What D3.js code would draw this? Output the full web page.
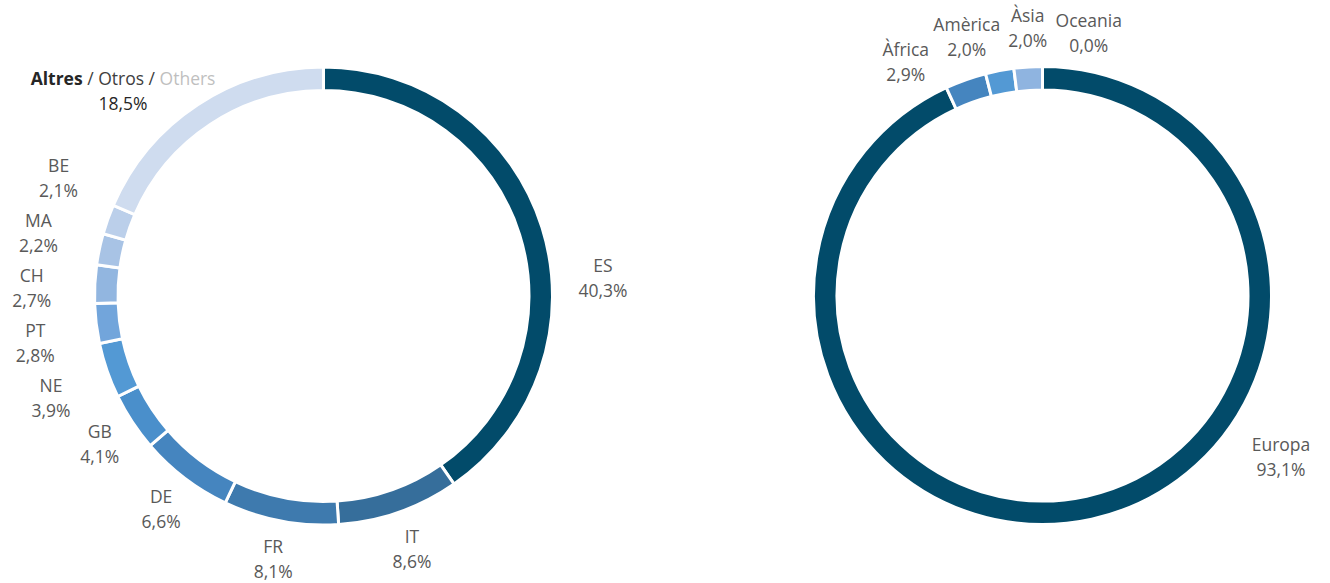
<!DOCTYPE html>
<html>
<head>
<meta charset="utf-8">
<script src="https://cdn.jsdelivr.net/npm/d3@7"></script>
<style>
  html, body { margin: 0; padding: 0; background: #ffffff; }
  svg { display: block; }
  text { font-family: "Open Sans", "Liberation Sans", sans-serif; }
</style>
</head>
<body>
<svg id="chart" width="1330" height="583"></svg>
<script>
// ---------- DATA ----------
const countryCategories = ["ES", "IT", "FR", "DE", "GB", "NE", "PT", "CH", "MA", "BE", "Altres"];
const countryValues     = [40.3, 8.6, 8.1, 6.6, 4.1, 3.9, 2.8, 2.7, 2.2, 2.1, 18.5];
const countryColors     = ["#024b6a", "#366e9b", "#3e7aae", "#4585bf", "#4a8fcb", "#5399d4",
                           "#72a5db", "#92b6e0", "#a8c3e5", "#bbcfea", "#cfdcef"];

const continentCategories = ["Europa", "Àfrica", "Amèrica", "Àsia", "Oceania"];
const continentValues     = [93.1, 2.9, 2.0, 2.0, 0.0];
const continentColors     = ["#024b6a", "#4585bf", "#5399d4", "#8fb4e0", "#cfdcef"];

// ---------- LAYOUT ----------
const OUTER = 229, INNER = 205.5;
const charts = [
  { cats: countryCategories, vals: countryValues, colors: countryColors, cx: 323.5, cy: 296 },
  { cats: continentCategories, vals: continentValues, colors: continentColors, cx: 1042.5, cy: 295.5 }
];
// manually dragged labels in the original (angle in degrees clockwise from top, radius)
const labelOverride = { "ES": [86.3, 280], "Europa": [124.1, 288], "Altres": [315.6, 286.5] };
const TEXT_COLOR = "#595959";
const FONT_SIZE = 17.5;
const fmt = v => d3.format(".1f")(v).replace(".", ",") + "%";

const svg = d3.select("#chart");
const pie = d3.pie().sort(null).value(d => d.v).startAngle(0).endAngle(2 * Math.PI);
const arc = d3.arc().innerRadius(INNER).outerRadius(OUTER);

function resolveGroup(items, key, gap) {
  // 1-D cluster-based overlap removal
  items.sort((a, b) => a[key] - b[key]);
  let clusters = items.map(it => ({ items: [it] }));
  const layout = c => {
    const mean = d3.mean(c.items, it => it[key]);
    const n = c.items.length;
    c.start = mean - (n - 1) * gap / 2;
    c.end = mean + (n - 1) * gap / 2;
  };
  clusters.forEach(layout);
  let merged = true;
  while (merged) {
    merged = false;
    for (let i = 0; i < clusters.length - 1; i++) {
      if (clusters[i].end + gap > clusters[i + 1].start) {
        clusters[i] = { items: clusters[i].items.concat(clusters[i + 1].items) };
        clusters.splice(i + 1, 1);
        layout(clusters[i]);
        merged = true;
        break;
      }
    }
  }
  clusters.forEach(c => c.items.forEach((it, i) => { it["r" + key] = c.start + i * gap; }));
}

charts.forEach(ch => {
  const data = ch.cats.map((c, i) => ({ c, v: ch.vals[i], color: ch.colors[i] }));
  const arcs = pie(data);
  const g = svg.append("g").attr("transform", `translate(${ch.cx},${ch.cy})`);

  g.selectAll("path.seg")
    .data(arcs)
    .join("path")
    .attr("class", "seg")
    .attr("d", arc)
    .attr("fill", d => d.data.color)
    .attr("stroke", "#ffffff")
    .attr("stroke-width", d => d.data.v > 0 ? 3 : 0)
    .attr("stroke-linejoin", "miter");

  // label positions
  const labels = arcs.map(a => {
    const ov = labelOverride[a.data.c];
    let ang, r;
    if (ov) {
      ang = ov[0] * Math.PI / 180; r = ov[1];
    } else {
      ang = (a.startAngle + a.endAngle) / 2;
      const s = Math.abs(Math.sin(ang));
      r = 268 + 24 * Math.max(0, Math.min(1, (s - 0.85) / 0.1));
    }
    const s = Math.sin(ang), c = Math.cos(ang);
    const L = { d: a.data, r, s, c, x: r * s, y: -r * c, fixed: !!ov };
    L.rx = L.x; L.ry = L.y;
    return L;
  });

  const groups = { L: [], R: [], T: [], B: [] };
  labels.filter(l => !l.fixed).forEach(l => {
    if (l.s < -0.9) groups.L.push(l);
    else if (l.s > 0.9) groups.R.push(l);
    else if (l.c > 0.9) groups.T.push(l);
    else if (l.c < -0.9) groups.B.push(l);
  });
  resolveGroup(groups.L, "y", 55);
  resolveGroup(groups.R, "y", 55);
  resolveGroup(groups.T, "x", 61);
  resolveGroup(groups.B, "x", 61);
  groups.L.forEach(l => { l.x = -Math.sqrt(Math.max(0, l.r * l.r - l.ry * l.ry)); l.y = l.ry; });
  groups.R.forEach(l => { l.x = Math.sqrt(Math.max(0, l.r * l.r - l.ry * l.ry)); l.y = l.ry; });
  groups.T.forEach(l => { l.y = -Math.sqrt(Math.max(0, l.r * l.r - l.rx * l.rx)); l.x = l.rx - 6; });
  groups.B.forEach(l => { l.y = Math.sqrt(Math.max(0, l.r * l.r - l.rx * l.rx)); l.x = l.rx; });

  labels.forEach(l => {
    const t = g.append("text")
      .attr("text-anchor", "middle")
      .attr("font-size", FONT_SIZE)
      .attr("fill", TEXT_COLOR);
    if (l.d.c === "Altres") {
      const t1 = t.append("tspan").attr("x", l.x).attr("y", l.y - 6);
      t1.append("tspan").attr("font-weight", "bold").attr("fill", "#262626").text("Altres");
      t1.append("tspan").attr("fill", "#404040").text(" / Otros / ");
      t1.append("tspan").attr("fill", "#bfbfbf").text("Others");
      t.append("tspan").attr("x", l.x).attr("y", l.y + 19).attr("fill", "#262626").text(fmt(l.d.v));
    } else {
      t.append("tspan").attr("x", l.x).attr("y", l.y - 6).text(l.d.c);
      t.append("tspan").attr("x", l.x).attr("y", l.y + 19).text(fmt(l.d.v));
    }
  });
});
</script>
</body>
</html>
